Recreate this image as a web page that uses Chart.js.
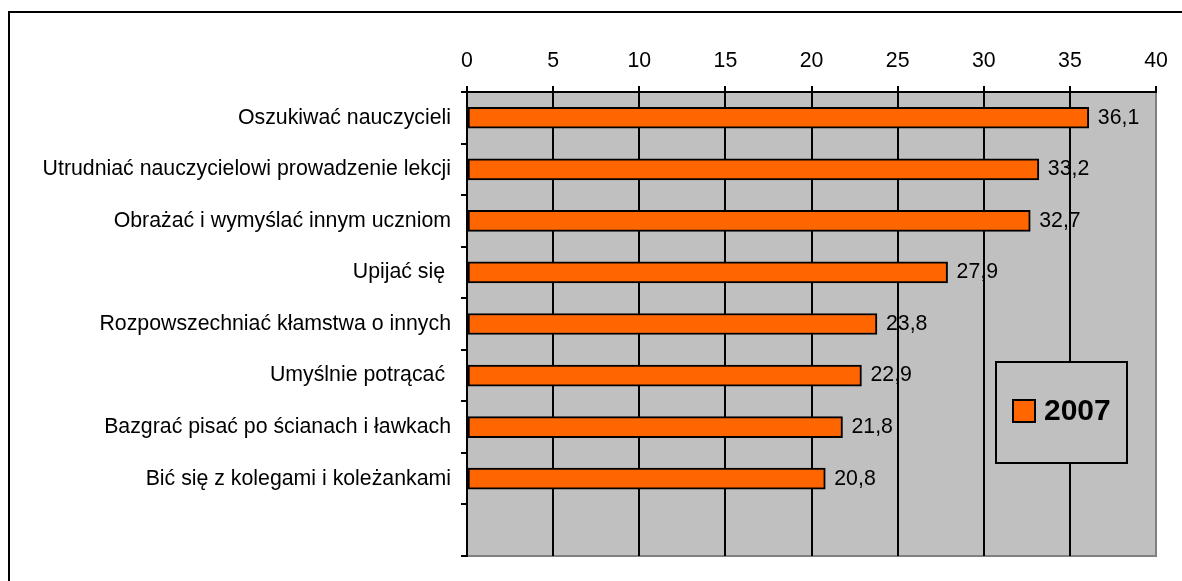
<!DOCTYPE html>
<html>
<head>
<meta charset="utf-8">
<script src="https://cdn.jsdelivr.net/npm/chart.js@4"></script>
<style>
  html, body { margin: 0; padding: 0; background: #fff; }
  #wrap { width: 1182px; height: 581px; }
</style>
</head>
<body>
<div id="wrap"><canvas id="c" width="1182" height="581"></canvas></div>
<script>
const categories = [
  'Oszukiwać nauczycieli',
  'Utrudniać nauczycielowi prowadzenie lekcji',
  'Obrażać i wymyślać innym uczniom',
  'Upijać się ',
  'Rozpowszechniać kłamstwa o innych',
  'Umyślnie potrącać ',
  'Bazgrać pisać po ścianach i ławkach',
  'Bić się z kolegami i koleżankami',
  ''
];
const values2007 = [36.1, 33.2, 32.7, 27.9, 23.8, 22.9, 21.8, 20.8, null];
const seriesLabel = '2007';
const xTicks = [0, 5, 10, 15, 20, 25, 30, 35, 40];

const FONT = "'Liberation Sans', Arial, sans-serif";
const PLOT_BG = '#C0C0C0';
const BAR = '#FF6600';

const framePlugin = {
  id: 'frame',
  beforeDraw(chart) {
    const { ctx, chartArea: a } = chart;
    ctx.save();
    ctx.fillStyle = '#fff';
    ctx.fillRect(0, 0, chart.width, chart.height);
    ctx.strokeStyle = '#000';
    ctx.lineWidth = 2;
    ctx.beginPath();
    ctx.moveTo(9, chart.height + 5);
    ctx.lineTo(9, 12);
    ctx.lineTo(chart.width + 5, 12);
    ctx.stroke();
    ctx.fillStyle = PLOT_BG;
    ctx.fillRect(a.left, a.top, a.right - a.left, a.bottom - a.top);
    ctx.strokeStyle = '#808080';
    ctx.lineWidth = 2;
    ctx.beginPath();
    ctx.moveTo(a.left, a.bottom);
    ctx.lineTo(a.right, a.bottom);
    ctx.lineTo(a.right, a.top);
    ctx.stroke();
    ctx.restore();
  }
};

const valueLabels = {
  id: 'valueLabels',
  afterDatasetsDraw(chart) {
    const { ctx } = chart;
    const meta = chart.getDatasetMeta(0);
    ctx.save();
    ctx.font = '21.3px ' + FONT;
    ctx.fillStyle = '#000';
    ctx.textAlign = 'left';
    ctx.textBaseline = 'middle';
    meta.data.forEach((el, i) => {
      const v = chart.data.datasets[0].data[i];
      if (v == null) return;
      ctx.fillText(v.toFixed(1).replace('.', ','), el.x + 9, el.y);
    });
    ctx.restore();
  }
};

const boxLegend = {
  id: 'boxLegend',
  afterDraw(chart) {
    const { ctx } = chart;
    const ds = chart.data.datasets[0];
    ctx.save();
    ctx.fillStyle = PLOT_BG;
    ctx.fillRect(996, 362, 131, 101);
    ctx.strokeStyle = '#000';
    ctx.lineWidth = 2;
    ctx.strokeRect(996, 362, 131, 101);
    ctx.fillStyle = ds.backgroundColor;
    ctx.fillRect(1013, 400, 22, 22);
    ctx.strokeRect(1013, 400, 22, 22);
    ctx.fillStyle = '#000';
    ctx.font = 'bold 30px ' + FONT;
    ctx.textAlign = 'left';
    ctx.textBaseline = 'middle';
    ctx.fillText(ds.label, 1044, 412);
    ctx.restore();
  }
};

new Chart(document.getElementById('c'), {
  type: 'bar',
  data: {
    labels: categories,
    datasets: [{
      label: seriesLabel,
      data: values2007,
      backgroundColor: BAR,
      borderColor: '#000',
      borderWidth: 2,
      borderSkipped: false,
      barThickness: 21
    }]
  },
  options: {
    indexAxis: 'y',
    responsive: false,
    animation: false,
    devicePixelRatio: 1,
    layout: { padding: { left: 0, right: 26, top: 0, bottom: 25 } },
    plugins: { legend: { display: false }, tooltip: { enabled: false } },
    scales: {
      x: {
        position: 'top',
        min: 0, max: 40,
        afterBuildTicks(scale) { scale.ticks = xTicks.map(v => ({ value: v })); },
        afterFit(scale) { scale.height = 92; },
        ticks: {
          stepSize: 5,
          color: '#000',
          font: { size: 21.3, family: FONT },
          padding: 12,
          maxRotation: 0
        },
        grid: {
          color: (c) => (c.tick && c.tick.value === 40 ? '#808080' : '#000'),
          tickColor: '#000',
          lineWidth: 2,
          tickLength: 6
        },
        border: { color: '#000', width: 2 }
      },
      y: {
        afterFit(scale) { scale.width = 467; },
        ticks: {
          color: '#000',
          font: { size: 21.3, family: FONT },
          padding: 10
        },
        grid: {
          offset: true,
          drawOnChartArea: false,
          color: '#000',
          lineWidth: 2,
          tickLength: 6
        },
        border: { color: '#000', width: 2 }
      }
    }
  },
  plugins: [framePlugin, valueLabels, boxLegend]
});
</script>
</body>
</html>
